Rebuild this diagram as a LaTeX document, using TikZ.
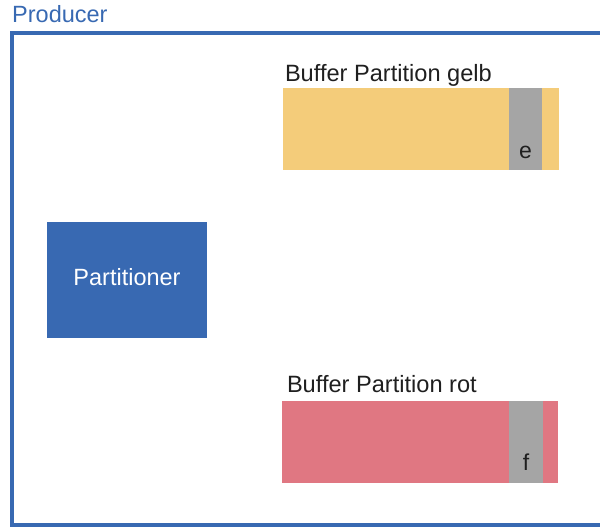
\documentclass[tikz,border=0pt]{standalone}
\usepackage{fontspec}
\setmainfont{Liberation Sans}
\usepackage{xcolor}
\usepackage{tikz}
\usetikzlibrary{positioning,calc}
\definecolor{prodblue}{HTML}{3869B2}
\definecolor{gelb}{HTML}{F4CC7A}
\definecolor{rot}{HTML}{E07782}
\definecolor{slotgray}{HTML}{A5A5A5}
\tikzset{
  buf/bar/.style={rectangle, inner sep=0pt, minimum width=276pt, minimum height=82pt},
  buf/slot/.style={rectangle, inner sep=0pt, fill=slotgray, minimum width=33pt, minimum height=82pt},
  buf/label/.style={inner sep=0pt, font=\fontsize{23.6}{27}\selectfont, text=black!88},
  buf/item/.style={inner sep=0pt, font=\fontsize{23}{27}\selectfont, text=black!88},
  partbox/.style={rectangle, fill=prodblue, inner sep=0pt,
    minimum width=160pt, minimum height=116pt}
}

\begin{document}
\begin{tikzpicture}[x=1pt,y=-1pt]
\useasboundingbox (0,0) rectangle (600,528);
% producer frame, open to the right
\coordinate (tr) at (604,33);
\coordinate (tl) at (12,33);
\coordinate (bl) at (12,525);
\coordinate (br) at (604,525);
\draw[prodblue, line width=4pt] (tr) -- (tl) -- (bl) -- (br);
\node[anchor=base west, inner sep=0pt, text=prodblue, font=\fontsize{23.5}{27}\selectfont] (producer) at (12,22) {Producer};

\node[partbox] (partitioner) at (127,280) {};
\node[text=white, inner sep=0pt, font=\fontsize{23.5}{27}\selectfont] (partlbl) at ([yshift=3pt]partitioner.center) {Partitioner};

% partition gelb
\node[buf/bar, fill=gelb] (bufgelb) at (421,129) {};
\node[buf/slot] (slote) at (525.5,129) {};
\node[buf/item, anchor=base] (e) at ([yshift=12pt]slote.south) {e};
\node[buf/label, anchor=base west] (lblgelb) at ([xshift=2pt,yshift=6pt]bufgelb.north west) {Buffer Partition gelb};

% partition rot
\node[buf/bar, fill=rot] (bufrot) at (420,442) {};
\node[buf/slot, minimum width=34pt] (slotf) at (526,442) {};
\node[buf/item, anchor=base] (f) at ([yshift=13pt]slotf.south) {f};
\node[buf/label, anchor=base west] (lblrot) at ([xshift=5pt,yshift=8pt]bufrot.north west) {Buffer Partition rot};
\end{tikzpicture}
\end{document}
